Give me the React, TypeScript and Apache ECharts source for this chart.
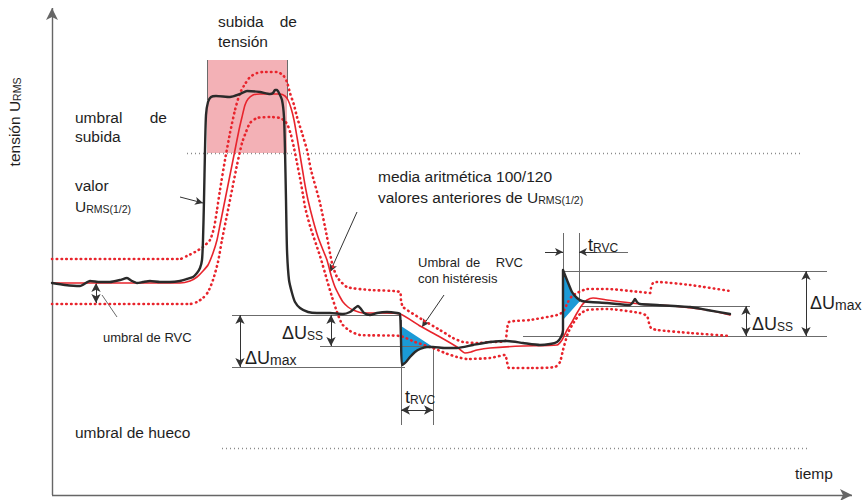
import React, { useEffect, useRef } from "react";
import * as echarts from "echarts";

// time (t) vs RMS voltage (u) on the schematic's own scale (u grows downward on the page)
const urmsHalfCycle: number[][] = [
  [52, 283], [65, 285], [80, 286], [90, 281], [100, 282], [110, 282], [120, 280], [127, 278], [132, 281],
  [137, 283], [143, 282], [150, 281], [160, 282], [170, 282], [180, 281], [187, 279], [193, 277], [197, 273],
  [200, 268], [202, 260], [203, 240], [204, 200], [205, 150], [206, 115], [208, 102], [211, 97], [216, 96],
  [230, 97], [240, 94], [247, 91], [260, 92], [270, 94], [273, 93], [275, 90], [277, 90], [279, 93], [282, 100],
  [284, 117], [285, 150], [286, 200], [287, 250], [289, 280], [292, 293], [295, 302], [300, 308], [308, 312],
  [317, 313], [330, 313], [343, 314], [350, 312], [355, 308], [358, 306], [361, 309], [364, 313], [370, 315],
  [377, 313], [387, 312], [397, 313], [400, 314], [401, 340], [402, 365], [406, 362], [410, 357], [415, 352],
  [420, 349], [427, 347], [433, 347], [445, 348], [457, 348], [473, 345], [490, 342], [507, 341], [523, 343],
  [540, 345], [550, 344], [557, 342], [561, 337], [563, 330], [563, 300], [563, 270], [567, 280], [572, 292],
  [577, 298], [582, 301], [590, 302], [607, 303], [630, 305], [633, 302], [635, 299], [637, 302], [640, 304],
  [657, 305], [690, 307], [707, 310], [730, 314]
];

const slidingMean: number[][] = [
  [52, 283], [180, 283], [190, 281], [197, 277], [203, 271], [208, 265], [213, 253], [217, 240], [220, 225],
  [224, 205], [227, 190], [231, 170], [235, 150], [239, 130], [242, 117], [245, 105], [248, 99], [253, 95],
  [260, 94], [280, 94], [285, 96], [288, 100], [291, 108], [294, 120], [297, 137], [300, 155], [303, 173],
  [305, 185], [308, 200], [313, 220], [318, 237], [323, 250], [327, 260], [331, 275], [335, 287], [340, 297],
  [343, 302], [348, 307], [353, 310], [363, 313], [380, 313], [400, 314], [420, 326], [440, 337], [457, 347],
  [465, 353], [471, 352], [477, 350], [490, 348], [523, 346], [557, 345], [562, 340], [567, 330], [572, 322],
  [577, 313], [582, 305], [587, 300], [593, 298], [607, 300], [640, 304], [673, 306], [707, 310], [730, 315]
];

const upperRvcThreshold: number[][] = [
  [52, 259], [180, 259], [187, 256], [195, 252], [203, 247], [210, 240], [214, 228], [217, 210], [220, 190],
  [225, 160], [230, 133], [235, 110], [240, 93], [245, 84], [250, 77], [257, 73], [263, 72], [277, 72],
  [283, 75], [287, 82], [290, 93], [294, 105], [297, 117], [302, 133], [307, 150], [311, 170], [320, 203],
  [327, 237], [332, 263], [337, 277], [347, 287], [370, 290], [400, 292], [401, 300], [403, 307], [423, 320],
  [440, 330], [453, 338], [463, 342], [477, 343], [490, 342], [505, 341], [507, 330], [509, 322], [530, 320],
  [557, 315], [563, 312], [568, 302], [572, 296], [577, 293], [587, 289], [607, 289], [640, 292], [650, 293],
  [651, 288], [653, 283], [657, 282], [690, 285], [730, 291]
];

const lowerRvcThreshold: number[][] = [
  [52, 304], [190, 304], [197, 302], [203, 298], [208, 292], [213, 280], [218, 262], [222, 240], [227, 215],
  [232, 190], [237, 165], [242, 143], [246, 132], [250, 123], [257, 118], [270, 117], [280, 118], [285, 121],
  [288, 126], [291, 135], [294, 148], [297, 163], [300, 178], [303, 195], [305, 207], [310, 226], [320, 256],
  [327, 280], [332, 297], [337, 312], [342, 324], [350, 331], [360, 335], [400, 336], [415, 342], [433, 348],
  [445, 353], [457, 357], [467, 359], [490, 358], [505, 355], [507, 362], [509, 368], [530, 368], [555, 367],
  [560, 362], [563, 350], [568, 333], [574, 322], [580, 314], [587, 310], [607, 309], [640, 313], [647, 316],
  [649, 323], [651, 328], [657, 330], [690, 333], [730, 336]
];

const rvcFillAreas: number[][][] = [
  [[401, 326], [401, 365], [406, 362], [410, 357], [415, 352], [420, 349], [427, 347], [433, 347]],
  [[563, 270], [567, 280], [572, 292], [577, 298], [580, 301], [563, 320]]
];

const swellZone: number[][] = [[207, 60], [287, 153]];
const swellThreshold: number[][] = [[187, 153], [800, 153]];
const dipThreshold: number[][] = [[222, 448], [808, 448]];

const axesLines: number[][][] = [
  [[52, 495], [52, 8]],
  [[52, 495], [852, 495]]
];

const guideLines: number[][][] = [
  [[232, 315], [400, 315]],
  [[320, 346], [433, 346]],
  [[232, 367], [405, 367]],
  [[401, 320], [401, 425]],
  [[433, 346], [433, 425]],
  [[563, 271], [827, 271]],
  [[580, 306], [750, 306]],
  [[523, 336], [827, 336]],
  [[563, 233], [563, 336]],
  [[579, 233], [579, 302]],
  [[579, 252], [628, 252]],
  [[207, 60], [207, 100]],
  [[287, 60], [287, 100]],
  [[117, 317], [102, 295]]
];

const dimensionArrows: number[][][] = [
  [[240, 315], [240, 367]],
  [[331, 315], [331, 346]],
  [[401, 410], [433, 410]],
  [[806, 271], [806, 336]],
  [[746, 306], [746, 336]],
  [[96, 283], [96, 303]]
];

const pointerArrows: number[][][] = [
  [[545, 252], [563, 252]],
  [[597, 252], [579, 252]],
  [[180, 197], [203, 203]],
  [[357, 212], [330, 272]],
  [[444, 295], [422, 327]]
];

const FONT = "'Liberation Sans', Arial, sans-serif";
const INK = "#1e1e1e";

function lineGroup(name: string, pairs: number[][][], color: string, width: number, symbol: any, symbolSize: any, type: any = "solid", z = 3) {
  return {
    name,
    type: "line",
    data: [],
    z,
    silent: true,
    markLine: {
      silent: true,
      animation: false,
      symbol,
      symbolSize,
      label: { show: false },
      emphasis: { disabled: true },
      lineStyle: { color, width, type, opacity: 1 },
      data: pairs.map(([a, b]) => [{ coord: a }, { coord: b }])
    }
  };
}

function curve(name: string, data: number[][], color: string, width: number, type: any, z: number) {
  return {
    name,
    type: "line",
    data,
    z,
    smooth: 0.2,
    showSymbol: false,
    symbol: "none",
    silent: true,
    lineStyle: { color, width, type, cap: "round", join: "round" }
  };
}

const subRich = (big: number, small: number) => ({
  b: { fontSize: big, fontFamily: FONT, color: INK, verticalAlign: "bottom", lineHeight: big + 4 },
  s: { fontSize: small, fontFamily: FONT, color: INK, verticalAlign: "bottom", lineHeight: small + 1 }
});

function txt(text: string, x: number, y: number, size: number, align = "left", extra: any = {}) {
  return {
    type: "text",
    x,
    y,
    z: 100,
    ...extra,
    style: {
      text,
      fill: INK,
      fontSize: size,
      fontFamily: FONT,
      align,
      verticalAlign: "middle",
      ...(extra.style || {})
    }
  };
}

export default function App() {
  const ref = useRef<HTMLDivElement>(null);
  useEffect(() => {
    if (!ref.current) return;
    const chart = echarts.init(ref.current, undefined, { renderer: "svg" });
    const option: any = {
      animation: false,
      backgroundColor: "#ffffff",
      grid: { left: 0, right: 0, top: 0, bottom: 0 },
      xAxis: { type: "value", min: 0, max: 868, show: false },
      yAxis: { type: "value", min: 0, max: 500, inverse: true, show: false },
      series: [
        {
          name: "swell",
          type: "line",
          data: [],
          z: 1,
          markArea: {
            silent: true,
            itemStyle: { color: "#f3b1b6", opacity: 1 },
            label: { show: false },
            data: [[{ coord: swellZone[0] }, { coord: swellZone[1] }]]
          }
        },
        lineGroup("thresholds", [swellThreshold, dipThreshold], "#8a8a8a", 1.3, "none", 0, [1, 3], 2),
        lineGroup("guides", guideLines, "#6b6b6b", 1, "none", 0, "solid", 2),
        {
          name: "rvcFill",
          type: "custom",
          z: 4,
          silent: true,
          clip: false,
          data: rvcFillAreas.map((poly) => poly[0]),
          renderItem: (params: any, api: any) => ({
            type: "polygon",
            shape: { points: rvcFillAreas[params.dataIndex].map((p) => api.coord(p)) },
            style: { fill: "#1b9ad6" }
          })
        },
        curve("upper", upperRvcThreshold, "#e8242c", 2.6, [0.5, 4.3], 5),
        curve("lower", lowerRvcThreshold, "#e8242c", 2.6, [0.5, 4.3], 5),
        curve("mean", slidingMean, "#e8242c", 1.6, "solid", 6),
        curve("urms", urmsHalfCycle, "#2a2a2a", 2.4, "solid", 7),
        lineGroup("axes", axesLines, "#666666", 1.4, ["none", "arrow"], [9, 12], "solid", 8),
        lineGroup("dims", dimensionArrows, "#333333", 1, ["arrow", "arrow"], [7, 9], "solid", 8),
        lineGroup("pointers", pointerArrows, "#333333", 1, ["none", "arrow"], [6, 8], "solid", 8)
      ],
      graphic: [
        txt("subida", 218, 21, 15.5),
        txt("de", 297, 21, 15.5, "right"),
        txt("tensión", 218, 41, 15.5),
        txt("umbral", 75, 117, 15.5),
        txt("de", 167, 117, 15.5, "right"),
        txt("subida", 75, 136, 15.5),
        txt("valor", 75, 185, 15.5),
        txt("{b|U}{s|RMS(1/2)}", 75, 205, 15.5, "left", { style: { rich: subRich(15.5, 10.5) } }),
        txt("media aritmética 100/120", 378, 176, 15.5),
        txt("{b|valores anteriores de U}{s|RMS(1/2)}", 378, 196, 15.5, "left", { style: { rich: subRich(15.5, 10.5) } }),
        txt("Umbral", 418, 262, 13),
        txt("de", 473, 262, 13, "center"),
        txt("RVC", 523, 262, 13, "right"),
        txt("con histéresis", 418, 278, 13),
        txt("umbral de RVC", 103, 337, 13),
        txt("umbral de hueco", 75, 432, 15.5),
        txt("tiemp", 795, 473, 15.5),
        txt("{b|tensión U}{s|RMS}", 13, 122, 15.5, "center", { rotation: Math.PI / 2, style: { rich: subRich(15.5, 10.5) } }),
        txt("{b|ΔU}{s|SS}", 282, 331, 18, "left", { style: { rich: subRich(18, 12) } }),
        txt("{b|ΔU}{s|max}", 245, 356, 18, "left", { style: { rich: subRich(18, 14) } }),
        txt("{b|t}{s|RVC}", 405, 395, 18, "left", { style: { rich: subRich(18, 12) } }),
        txt("{b|t}{s|RVC}", 588, 243, 18, "left", { style: { rich: subRich(18, 12) } }),
        txt("{b|ΔU}{s|max}", 810, 301, 18, "left", { style: { rich: subRich(18, 14) } }),
        txt("{b|ΔU}{s|SS}", 752, 322, 18, "left", { style: { rich: subRich(18, 12) } })
      ]
    };
    chart.setOption(option);
    return () => chart.dispose();
  }, []);
  return (
    <div
      ref={ref}
      style={{ position: "fixed", left: 0, top: 0, width: 868, height: 500, background: "#fff" }}
    />
  );
}
